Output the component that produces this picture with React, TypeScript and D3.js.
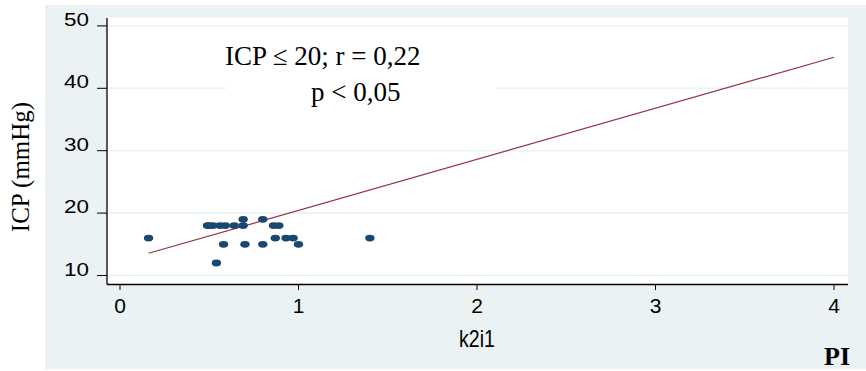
import React from "react";
import * as d3 from "d3";

// PI (k2i1) and ICP (mmHg) observations
const piValues = [
  0.49, 0.5, 0.52, 0.56, 0.59, 0.64, 0.69, 0.86, 0.89,
  0.69, 0.8,
  0.16, 0.87, 0.93, 0.97, 1.4,
  0.58, 0.7, 0.8, 1.0,
  0.54,
];
const icpValues = [
  18, 18, 18, 18, 18, 18, 18, 18, 18,
  19, 19,
  16, 16, 16, 16, 16,
  15, 15, 15, 15,
  12,
];

// Fitted line ICP = intercept + slope * PI over its drawn range
const fitIntercept = 12.26;
const fitSlope = 8.18;
const fitRange = [0.16, 4.0];

const xTicks = [0, 1, 2, 3, 4];
const yTicks = [10, 20, 30, 40, 50];

const W = 866;
const H = 371;
const plot = { left: 107, right: 848, top: 17.5, bottom: 284.5 };

const sans = "Liberation Sans, Arial, sans-serif";
const serif = "Liberation Serif, Times New Roman, serif";

export default function App() {
  const x = d3.scaleLinear().domain([0, 4]).range([120, 834]);
  const y = d3.scaleLinear().domain([10, 50]).range([275.5, 25.9]);

  const fitPts: [number, number][] = fitRange.map((v) => [v, fitIntercept + fitSlope * v]);
  const line = d3
    .line<[number, number]>()
    .x((d) => x(d[0]))
    .y((d) => y(d[1]));

  const bg = "#eaf2f3";

  return (
    <svg
      width={W}
      height={H}
      style={{ position: "absolute", left: 0, top: 0 }}
    >
      <rect x={0} y={0} width={W} height={H} fill="#ffffff" />
      <rect x={45} y={5} width={W - 45} height={364} fill={bg} />
      <rect
        x={plot.left}
        y={plot.top}
        width={plot.right - plot.left}
        height={plot.bottom - plot.top}
        fill="#ffffff"
      />
      {/* gridlines */}
      {yTicks.map((t) => (
        <line
          key={"g" + t}
          x1={plot.left}
          x2={plot.right}
          y1={y(t)}
          y2={y(t)}
          stroke={bg}
          strokeWidth={1.5}
        />
      ))}
      {/* annotation backing */}
      <rect x={226} y={40} width={271} height={70} fill="#ffffff" />
      {/* axes */}
      <line x1={plot.left} x2={plot.left} y1={18} y2={plot.bottom} stroke="#000" strokeWidth={1.3} />
      <line x1={plot.left} x2={plot.right} y1={plot.bottom} y2={plot.bottom} stroke="#000" strokeWidth={1.3} />
      {yTicks.map((t) => (
        <g key={"y" + t}>
          <line x1={97} x2={plot.left} y1={y(t)} y2={y(t)} stroke="#000" strokeWidth={1} />
          <text
            transform={`translate(89,${y(t)}) scale(1.18,1)`}
            textAnchor="end"
            fontFamily={sans}
            fontSize={19}
            fill="#000"
          >
            {t}
          </text>
        </g>
      ))}
      {xTicks.map((t) => (
        <g key={"x" + t}>
          <line x1={x(t)} x2={x(t)} y1={plot.bottom} y2={290} stroke="#000" strokeWidth={1} />
          <text
            x={x(t)}
            y={312.5}
            textAnchor="middle"
            fontFamily={sans}
            fontSize={21}
            fill="#000"
          >
            {t}
          </text>
        </g>
      ))}
      {/* fitted line */}
      <path d={line(fitPts) || ""} fill="none" stroke="#90353b" strokeWidth={1.2} />
      {/* observations */}
      {piValues.map((p, i) => (
        <ellipse
          key={"p" + i}
          cx={x(p)}
          cy={y(icpValues[i])}
          rx={4.7}
          ry={3.4}
          fill="#1a476f"
        />
      ))}
      {/* annotation */}
      <text x={225} y={65} fontFamily={serif} fontSize={27} fill="#000">
        ICP ≤ 20; r = 0,22
      </text>
      <text x={311} y={101} fontFamily={serif} fontSize={27} fill="#000">
        p &lt; 0,05
      </text>
      {/* axis titles */}
      <text
        transform="translate(29,167) rotate(-90)"
        textAnchor="middle"
        fontFamily={serif}
        fontSize={25}
        fill="#000"
      >
        ICP (mmHg)
      </text>
      <text
        transform="translate(477,346.5) scale(0.85,1)"
        textAnchor="middle"
        fontFamily={sans}
        fontSize={23}
        fill="#000"
      >
        k2i1
      </text>
      <text
        x={837}
        y={365}
        textAnchor="middle"
        fontFamily={serif}
        fontWeight="bold"
        fontSize={26}
        fill="#000"
      >
        PI
      </text>
    </svg>
  );
}
